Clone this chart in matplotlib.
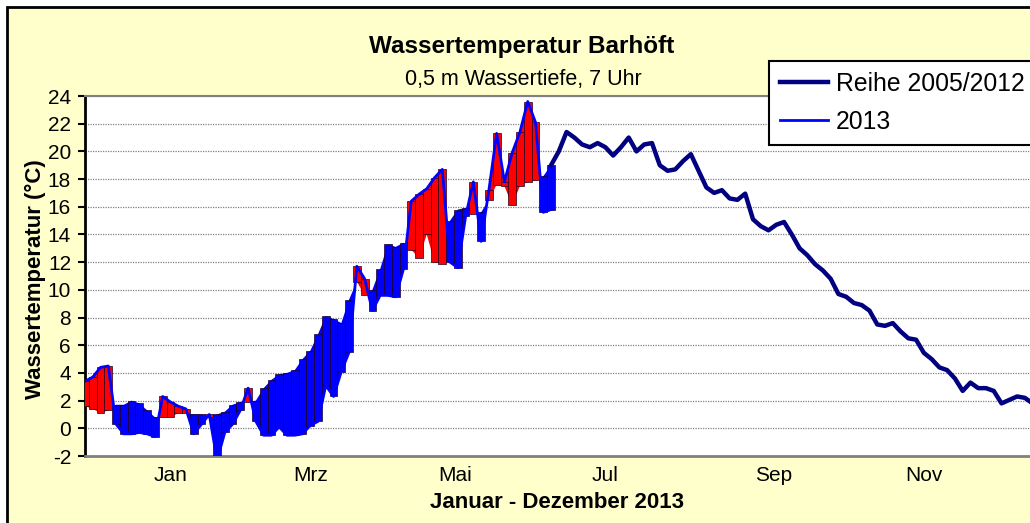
import numpy as np
import matplotlib.pyplot as plt
from matplotlib.patches import Rectangle

plt.rcParams['font.family'] = ['Liberation Sans', 'DejaVu Sans']
plt.rcParams['axes.unicode_minus'] = False

# day of year, sampled every 3 days
days = np.arange(0, 367, 3)

# long-term mean 2005/2012 (degC)
reihe = [1.6, 1.4, 1.1, 1.3, 1.7, 1.7, 2.0, 1.8, 1.3, 0.8,
         0.8, 0.8, 1.1, 1.1, 1.0, 1.0, 0.8, 1.0, 1.2, 1.7,
         1.9, 1.9, 2.0, 2.9, 3.5, 3.9, 4.0, 4.2, 5.0, 5.6,
         6.8, 8.1, 7.9, 7.6, 9.3, 10.6, 9.6, 10.0, 11.5, 13.3,
         13.1, 13.4, 12.9, 12.3, 14.0, 12.0, 11.9, 15.0, 15.8, 15.9,
         15.5, 15.6, 16.5, 17.6, 17.5, 16.1, 17.5, 17.8, 17.9, 18.2,
         19.0, 20.0, 21.4, 21.0, 20.5, 20.3, 20.6, 20.3, 19.7, 20.3,
         21.0, 20.0, 20.5, 20.6, 19.0, 18.6, 18.7, 19.3, 19.8, 18.6,
         17.4, 17.0, 17.2, 16.6, 16.5, 16.95, 15.1, 14.6, 14.3, 14.7,
         14.9, 14.0, 13.0, 12.5, 11.85, 11.4, 10.8, 9.7, 9.5, 9.05,
         8.9, 8.5, 7.5, 7.4, 7.6, 7.0, 6.5, 6.4, 5.45, 5.0,
         4.4, 4.2, 3.6, 2.7, 3.3, 2.9, 2.9, 2.7, 1.8, 2.05,
         2.3, 2.2, 1.8]

# 2013 measurements (degC), January to end of June
t2013 = [3.4, 3.7, 4.4, 4.5, 0.3, -0.4, -0.4, -0.3, -0.4, -0.6,
         2.3, 1.9, 1.6, 1.4, -0.4, 0.3, 1.0, -2.3, -0.3, 0.3,
         1.3, 2.9, 0.5, -0.5, -0.5, 0.1, -0.5, -0.5, -0.4, 0.2,
         0.5, 3.1, 2.3, 4.1, 5.5, 11.7, 10.8, 8.5, 9.6, 9.6,
         9.5, 11.5, 16.4, 16.9, 17.3, 18.1, 18.7, 12.0, 11.6, 15.3,
         17.8, 13.5, 17.2, 21.3, 17.8, 19.9, 21.4, 23.6, 22.1, 15.6,
         15.8]

month_days = [33, 87, 143, 201, 266, 324]
month_labels = ['Jan', 'Mrz', 'Mai', 'Jul', 'Sep', 'Nov']

reihe = np.array(reihe)
t2013 = np.array(t2013)
n13 = len(t2013)
d13 = days[:n13]
r13 = reihe[:n13]

fig = plt.figure(figsize=(10.30, 5.23), dpi=100)
fig.patch.set_facecolor('white')
bg = Rectangle((7 / 1030, -0.1), 1.2, 1.1 - 7 / 523,
               transform=fig.transFigure, facecolor='#FFFFCC',
               edgecolor='black', linewidth=2, zorder=-10)
fig.add_artist(bg)

ax = fig.add_axes([85 / 1030, 1 - 456 / 523, 945 / 1030, 360 / 523])
ax.set_facecolor('white')

# warmer / colder than the mean: up-down bars plus a filled band
warm = t2013 >= r13
ax.fill_between(d13, r13, t2013, where=warm, interpolate=True,
                color='#FF0000', linewidth=0, zorder=3)
ax.fill_between(d13, r13, t2013, where=t2013 <= r13, interpolate=True,
                color='#0000FF', linewidth=0, zorder=3)
ax.bar(d13, np.abs(t2013 - r13), bottom=np.minimum(t2013, r13), width=3,
       color=np.where(warm, '#FF0000', '#0000FF'), edgecolor='#200020',
       linewidth=0.5, zorder=3.5)

l_reihe, = ax.plot(days[n13 - 1:], reihe[n13 - 1:], color='#000080', lw=3.2,
                   zorder=4, label='Reihe 2005/2012')
l_2013, = ax.plot(d13, t2013, color='#0000FF', lw=2.0, zorder=5, label='2013')

ax.set_xlim(0, 365)
ax.set_ylim(-2, 24)
ax.set_yticks(np.arange(-2, 25, 2))
ax.set_xticks(month_days)
ax.set_xticklabels(month_labels)
ax.tick_params(axis='x', length=0, pad=7, labelsize=15)
ax.tick_params(axis='y', length=5, width=1.5, pad=5, labelsize=15, direction='out')
ax.yaxis.grid(True, color='#808080', linestyle=(0, (1, 1)), linewidth=0.9, zorder=1)
ax.set_axisbelow(True)

ax.spines['left'].set_color('black')
ax.spines['left'].set_linewidth(2)
ax.spines['bottom'].set_color('#808080')
ax.spines['bottom'].set_linewidth(2)
ax.spines['top'].set_color('#808080')
ax.spines['top'].set_linewidth(1.5)
ax.spines['right'].set_visible(False)

ax.set_ylabel('Wassertemperatur (°C)', fontsize=16, fontweight='bold', va='center')
ax.yaxis.set_label_coords(-0.052, 0.49)
ax.set_xlabel('Januar - Dezember 2013', fontsize=16, fontweight='bold', va='center')
ax.xaxis.set_label_coords(0.5, -0.13)

fig.text(522 / 1030, 1 - 47 / 523, 'Wassertemperatur Barhöft', fontsize=17.5,
         fontweight='bold', ha='center', va='center')
fig.text(523 / 1030, 1 - 80 / 523, '0,5 m Wassertiefe, 7 Uhr', fontsize=15.5,
         ha='center', va='center')

leg = fig.legend(handles=[l_reihe, l_2013], loc='upper left',
                 bbox_to_anchor=(769 / 1030, 1 - 61 / 523), fontsize=17.8,
                 frameon=True, fancybox=False, edgecolor='black', facecolor='white',
                 framealpha=1, handlelength=1.95, handletextpad=0.3,
                 labelspacing=0.55, borderpad=0.45, borderaxespad=0)
leg.get_frame().set_linewidth(1.5)
leg.set_zorder(10)

fig.savefig('out.png', dpi=100, facecolor=fig.get_facecolor())
